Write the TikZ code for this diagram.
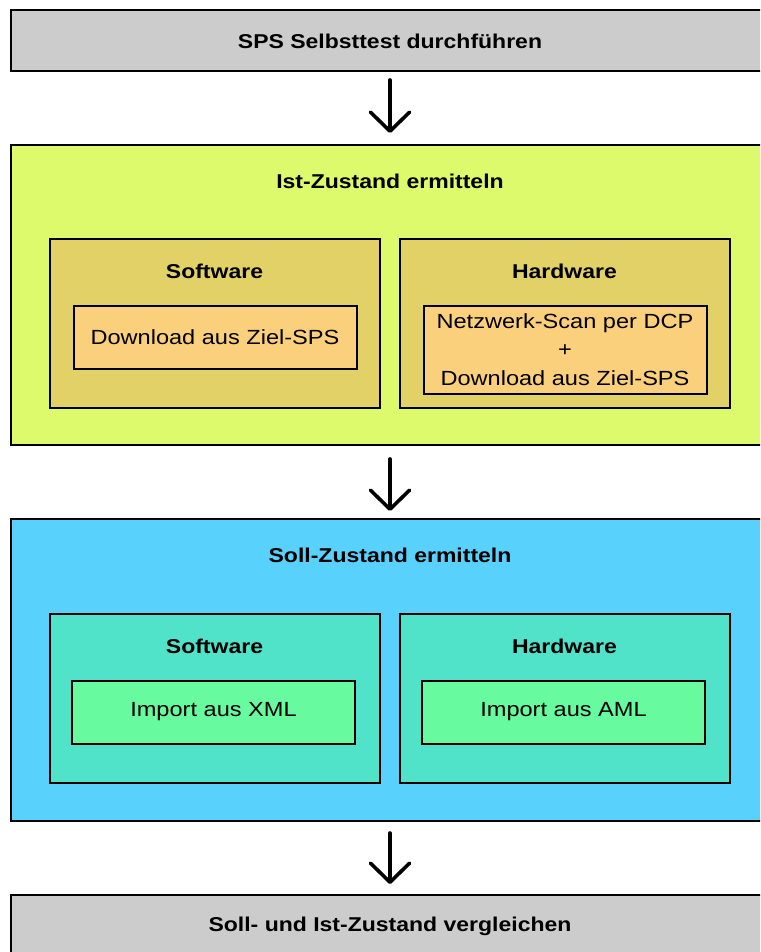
\documentclass[tikz,border=0pt]{standalone}
\usepackage{fontspec}
\setmainfont[FakeStretch=1.15]{Liberation Sans}
\usetikzlibrary{arrows.meta}

\definecolor{stepgray}{HTML}{CCCCCC}
\definecolor{istgreen}{HTML}{DCFA6B}
\definecolor{istinner}{HTML}{E2D166}
\definecolor{istcontent}{HTML}{FAD07C}
\definecolor{sollblue}{HTML}{58D1FC}
\definecolor{sollinner}{HTML}{51E3C9}
\definecolor{sollcontent}{HTML}{67FA9F}

\tikzset{
  frame/.style={draw=black, line width=2pt, rectangle, inner sep=0pt},
  phasebox/.style={frame, minimum width=758pt},
  groupbox/.style={frame, minimum width=330pt, minimum height=169pt},
  itembox/.style={frame, font=\fontsize{20.5}{28.5}\selectfont, align=center},
  heading/.style={font=\fontsize{20}{24}\selectfont\bfseries, inner sep=0pt},
  flow/.style={line width=3.6pt, line cap=round,
    -{Straight Barb[length=19pt, width=39pt, round]}}
}

\begin{document}
\begin{tikzpicture}[x=1pt, y=-1pt]
  \clip (0,0) rectangle (760,952);
  \fill[white] (0,0) rectangle (760,952);

  % step 1
  \node[phasebox, fill=stepgray, minimum height=61pt] (selftest) at (390,40.5) {};
  \node[heading] (selftesttxt) at (390,41) {SPS Selbsttest durchführen};

  % step 2: actual state
  \node[phasebox, fill=istgreen, minimum height=300pt] (ist) at (390,295) {};
  \node[heading] (isttxt) at (390,181) {Ist-Zustand ermitteln};
  \node[groupbox, fill=istinner] (istsw) at (214.5,323.5) {};
  \node[heading] at (214.5,271) {Software};
  \node[itembox, fill=istcontent, minimum width=283pt, minimum height=63pt]
    (istswitem) at (215,337) {Download aus Ziel-SPS};
  \node[groupbox, fill=istinner] (isthw) at (564.5,323.5) {};
  \node[heading] at (564.5,271) {Hardware};
  \node[itembox, fill=istcontent, minimum width=283pt, minimum height=88pt]
    (isthwitem) at (565,349.5) {Netzwerk-Scan per DCP\\+\\Download aus Ziel-SPS};

  % step 3: target state
  \node[phasebox, fill=sollblue, minimum height=302pt] (soll) at (390,670) {};
  \node[heading] (solltxt) at (390,555) {Soll-Zustand ermitteln};
  \node[groupbox, fill=sollinner] (sollsw) at (214.5,698.5) {};
  \node[heading] at (214.5,646) {Software};
  \node[itembox, fill=sollcontent, minimum width=283pt, minimum height=63pt]
    (sollswitem) at (213.5,712) {Import aus XML};
  \node[groupbox, fill=sollinner] (sollhw) at (564.5,698.5) {};
  \node[heading] at (564.5,646) {Hardware};
  \node[itembox, fill=sollcontent, minimum width=283pt, minimum height=63pt]
    (sollhwitem) at (563.5,712) {Import aus AML};

  % step 4
  \node[phasebox, fill=stepgray, minimum height=80pt] (compare) at (390,935) {};
  \node[heading] (comparetxt) at (390,926) {Soll- und Ist-Zustand vergleichen};

  % flow arrows
  \draw[flow, shorten <=8pt, shorten >=11pt] (selftest.south -| selftesttxt) -- (ist.north -| isttxt);
  \draw[flow, shorten <=13pt, shorten >=7pt] (ist.south -| isttxt) -- (soll.north -| solltxt);
  \draw[flow, shorten <=11pt, shorten >=10pt] (soll.south -| solltxt) -- (compare.north -| comparetxt);
\end{tikzpicture}
\end{document}
